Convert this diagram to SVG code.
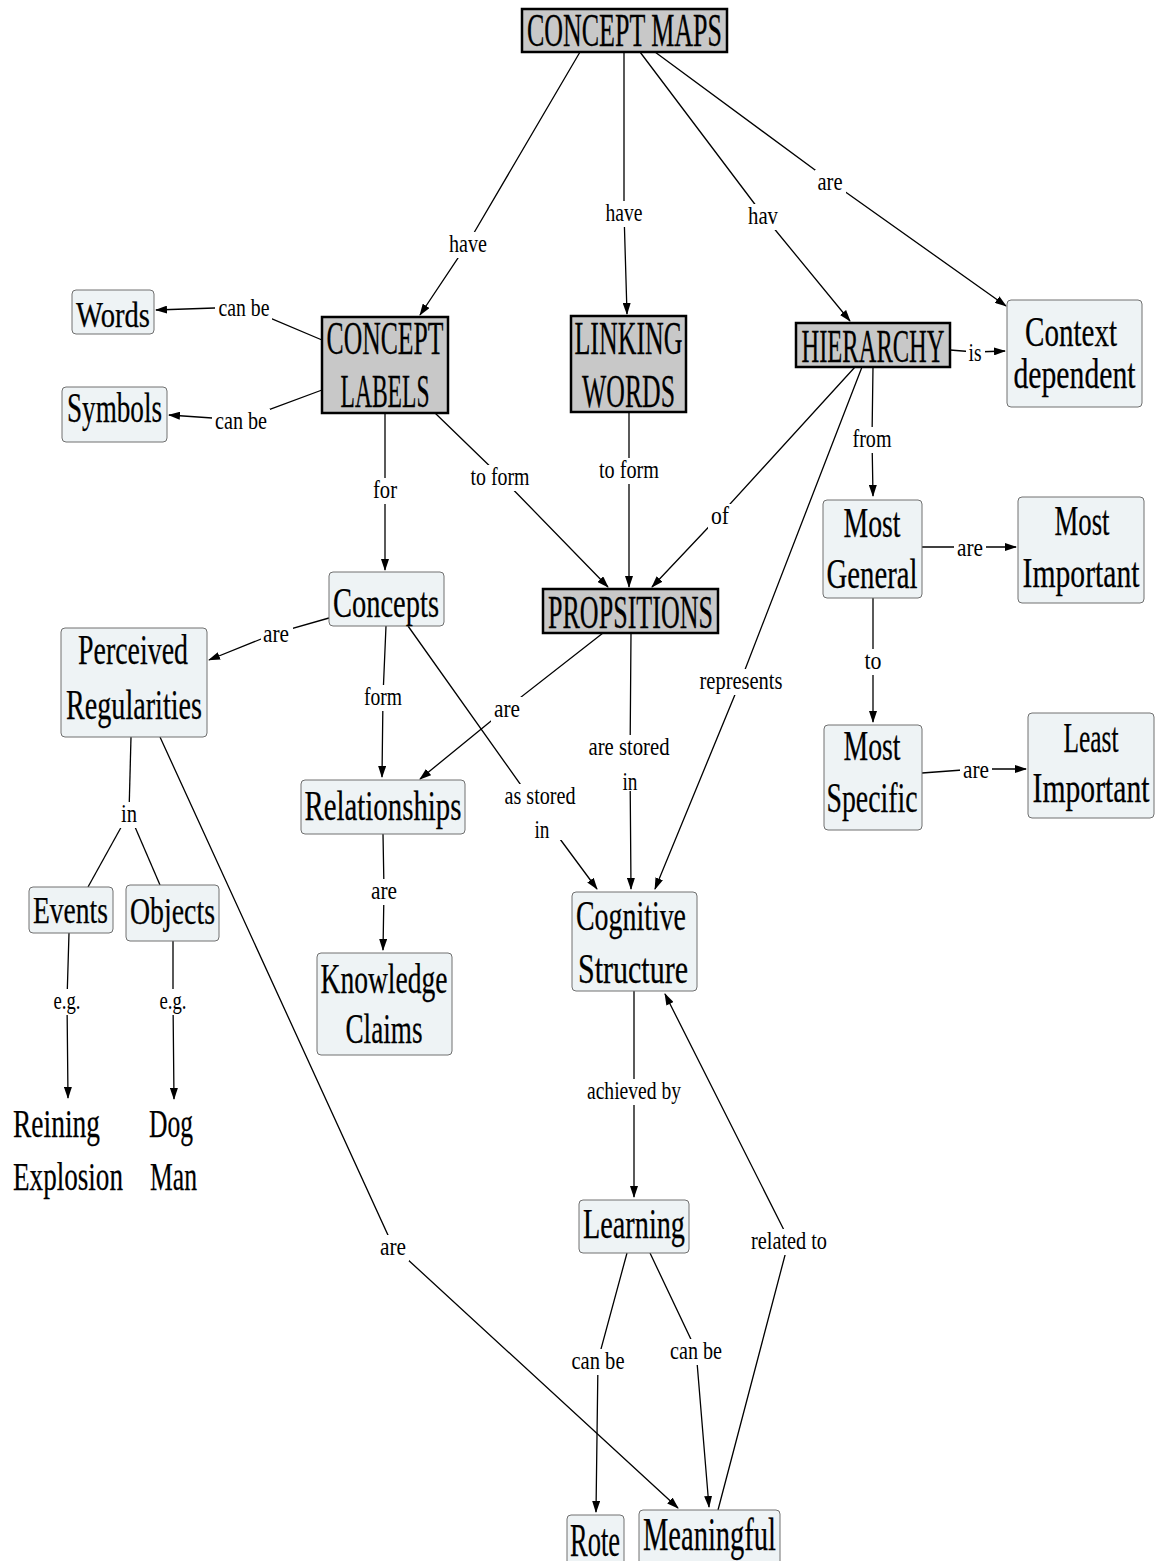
<svg xmlns="http://www.w3.org/2000/svg" width="1168" height="1561" viewBox="0 0 1168 1561">
<style>
text{font-family:"Liberation Serif","Times New Roman",serif;fill:#000;text-anchor:middle}
.c rect{fill:#c8c8c8;stroke:#000;stroke-width:2.5}
.c text{font-size:47px;stroke:#000;stroke-width:0.3}
.n rect{fill:#eef3f5;stroke:#707070;stroke-width:1}
.n text{font-size:42px;stroke:#000;stroke-width:0.25}
.p text{font-size:40px;stroke:#000;stroke-width:0.25}
#connectors path{fill:none;stroke:#000;stroke-width:1.3}
#connectors path.a{marker-end:url(#ah)}
#labels rect{fill:#fff}
#labels text{font-size:25px}
</style>
<defs>
<marker id="ah" markerWidth="12" markerHeight="8" refX="11" refY="4" orient="auto" markerUnits="userSpaceOnUse"><path d="M0,0 L12,4 L0,8 z" fill="#000"/></marker>
</defs>
<rect width="1168" height="1561" fill="#fff"/>
<g id="connectors">
<path class="a" d="M580,52 L468,243 L420,315"/>
<path class="a" d="M624,52 L624,212 L627,314"/>
<path class="a" d="M640,52 L763,215 L850,321"/>
<path class="a" d="M655,52 L830,181 L1006,306"/>
<path class="a" d="M322,340 L244,307 L156,310"/>
<path class="a" d="M322,390 L241,420 L169,415"/>
<path class="a" d="M385,413 L385,489 L385,570"/>
<path class="a" d="M435,413 L500,476 L608,587"/>
<path class="a" d="M629,412 L629,469 L629,587"/>
<path class="a" d="M950,350 L975,352 L1005,351"/>
<path class="a" d="M873,367 L872,438 L873,496"/>
<path class="a" d="M855,367 L720,515 L652,587"/>
<path class="a" d="M862,367 L741,680 L655,889"/>
<path class="a" d="M922,547 L970,547 L1016,547"/>
<path class="a" d="M873,598 L873,660 L873,722"/>
<path class="a" d="M922,773 L976,769 L1026,769"/>
<path class="a" d="M329,618 L276,633 L209,660"/>
<path class="a" d="M386,626 L383,696 L382,777"/>
<path class="a" d="M408,626 L540,812 L597,889"/>
<path class="a" d="M603,633 L507,708 L420,779"/>
<path class="a" d="M631,633 L630,763 L631,889"/>
<path d="M131,737 L129,813"/>
<path d="M129,813 L88,887"/>
<path d="M129,813 L160,885"/>
<path class="a" d="M160,737 L393,1246 L678,1508"/>
<path class="a" d="M69,933 L67,1000 L68,1098"/>
<path class="a" d="M173,941 L173,1000 L174,1099"/>
<path class="a" d="M383,834 L384,890 L383,950"/>
<path class="a" d="M634,991 L634,1090 L634,1197"/>
<path class="a" d="M627,1253 L598,1360 L596,1512"/>
<path class="a" d="M650,1253 L696,1350 L709,1507"/>
<path class="a" d="M718,1510 L789,1240 L665,994"/>
</g>
<g id="labels">
<rect x="446" y="232" width="44" height="26"/><text x="468" y="252" textLength="38" lengthAdjust="spacingAndGlyphs">have</text>
<rect x="603" y="201" width="43" height="26"/><text x="624" y="221" textLength="37" lengthAdjust="spacingAndGlyphs">have</text>
<rect x="745" y="204" width="36" height="26"/><text x="763" y="224" textLength="30" lengthAdjust="spacingAndGlyphs">hav</text>
<rect x="815" y="170" width="31" height="26"/><text x="830" y="190" textLength="25" lengthAdjust="spacingAndGlyphs">are</text>
<rect x="215" y="296" width="57" height="26"/><text x="244" y="316" textLength="51" lengthAdjust="spacingAndGlyphs">can be</text>
<rect x="212" y="409" width="58" height="26"/><text x="241" y="429" textLength="52" lengthAdjust="spacingAndGlyphs">can be</text>
<rect x="370" y="478" width="30" height="26"/><text x="385" y="498" textLength="24" lengthAdjust="spacingAndGlyphs">for</text>
<rect x="468" y="465" width="65" height="26"/><text x="500" y="485" textLength="59" lengthAdjust="spacingAndGlyphs">to form</text>
<rect x="596" y="458" width="66" height="26"/><text x="629" y="478" textLength="60" lengthAdjust="spacingAndGlyphs">to form</text>
<rect x="966" y="341" width="19" height="26"/><text x="975" y="361" textLength="13" lengthAdjust="spacingAndGlyphs">is</text>
<rect x="849" y="427" width="45" height="26"/><text x="872" y="447" textLength="39" lengthAdjust="spacingAndGlyphs">from</text>
<rect x="708" y="504" width="24" height="26"/><text x="720" y="524" textLength="18" lengthAdjust="spacingAndGlyphs">of</text>
<rect x="697" y="669" width="89" height="26"/><text x="741" y="689" textLength="83" lengthAdjust="spacingAndGlyphs">represents</text>
<rect x="954" y="536" width="32" height="26"/><text x="970" y="556" textLength="26" lengthAdjust="spacingAndGlyphs">are</text>
<rect x="862" y="649" width="23" height="26"/><text x="873" y="669" textLength="17" lengthAdjust="spacingAndGlyphs">to</text>
<rect x="960" y="758" width="32" height="26"/><text x="976" y="778" textLength="26" lengthAdjust="spacingAndGlyphs">are</text>
<rect x="261" y="622" width="32" height="26"/><text x="276" y="642" textLength="26" lengthAdjust="spacingAndGlyphs">are</text>
<rect x="361" y="685" width="44" height="26"/><text x="383" y="705" textLength="38" lengthAdjust="spacingAndGlyphs">form</text>
<rect x="502" y="784" width="77" height="56"/><text x="540" y="804" textLength="71" lengthAdjust="spacingAndGlyphs">as stored</text><text x="542" y="838" textLength="15" lengthAdjust="spacingAndGlyphs">in</text>
<rect x="491" y="697" width="32" height="26"/><text x="507" y="717" textLength="26" lengthAdjust="spacingAndGlyphs">are</text>
<rect x="585" y="735" width="87" height="56"/><text x="629" y="755" textLength="81" lengthAdjust="spacingAndGlyphs">are stored</text><text x="630" y="790" textLength="15" lengthAdjust="spacingAndGlyphs">in</text>
<rect x="118" y="802" width="22" height="26"/><text x="129" y="822" textLength="16" lengthAdjust="spacingAndGlyphs">in</text>
<rect x="377" y="1235" width="32" height="26"/><text x="393" y="1255" textLength="26" lengthAdjust="spacingAndGlyphs">are</text>
<rect x="51" y="989" width="33" height="26"/><text x="67" y="1009" textLength="27" lengthAdjust="spacingAndGlyphs">e.g.</text>
<rect x="157" y="989" width="33" height="26"/><text x="173" y="1009" textLength="27" lengthAdjust="spacingAndGlyphs">e.g.</text>
<rect x="368" y="879" width="32" height="26"/><text x="384" y="899" textLength="26" lengthAdjust="spacingAndGlyphs">are</text>
<rect x="585" y="1079" width="100" height="26"/><text x="634" y="1099" textLength="94" lengthAdjust="spacingAndGlyphs">achieved by</text>
<rect x="569" y="1349" width="59" height="26"/><text x="598" y="1369" textLength="53" lengthAdjust="spacingAndGlyphs">can be</text>
<rect x="667" y="1339" width="58" height="26"/><text x="696" y="1359" textLength="52" lengthAdjust="spacingAndGlyphs">can be</text>
<rect x="748" y="1229" width="82" height="26"/><text x="789" y="1249" textLength="76" lengthAdjust="spacingAndGlyphs">related to</text>
</g>
<g id="concept-maps" class="c"><rect x="522" y="9" width="205" height="43"/><text x="624.5" y="46" textLength="195" lengthAdjust="spacingAndGlyphs">CONCEPT MAPS</text></g>
<g id="concept-labels" class="c"><rect x="322" y="317" width="126" height="96"/><text x="385" y="354" textLength="117" lengthAdjust="spacingAndGlyphs">CONCEPT</text><text x="385" y="407" textLength="89" lengthAdjust="spacingAndGlyphs">LABELS</text></g>
<g id="linking-words" class="c"><rect x="571" y="316" width="115" height="96"/><text x="628.5" y="354" textLength="108" lengthAdjust="spacingAndGlyphs">LINKING</text><text x="628.5" y="407" textLength="93" lengthAdjust="spacingAndGlyphs">WORDS</text></g>
<g id="hierarchy" class="c"><rect x="796" y="323" width="154" height="44"/><text x="873" y="362" textLength="143" lengthAdjust="spacingAndGlyphs">HIERARCHY</text></g>
<g id="propsitions" class="c"><rect x="543" y="589" width="175" height="44"/><text x="630.5" y="628" textLength="165" lengthAdjust="spacingAndGlyphs">PROPSITIONS</text></g>
<g id="words" class="n"><rect x="72" y="290" width="82" height="44" rx="4"/><text x="113" y="327" textLength="74" lengthAdjust="spacingAndGlyphs" style="font-size:35px">Words</text></g>
<g id="symbols" class="n"><rect x="62" y="387" width="105" height="55" rx="4"/><text x="114.5" y="422" textLength="95" lengthAdjust="spacingAndGlyphs">Symbols</text></g>
<g id="concepts" class="n"><rect x="329" y="572" width="115" height="54" rx="4"/><text x="386" y="617" textLength="106" lengthAdjust="spacingAndGlyphs">Concepts</text></g>
<g id="perceived-regularities" class="n"><rect x="61" y="628" width="146" height="109" rx="4"/><text x="133" y="664" textLength="110" lengthAdjust="spacingAndGlyphs">Perceived</text><text x="134" y="719" textLength="136" lengthAdjust="spacingAndGlyphs">Regularities</text></g>
<g id="relationships" class="n"><rect x="301" y="780" width="164" height="54" rx="4"/><text x="383" y="820" textLength="157" lengthAdjust="spacingAndGlyphs">Relationships</text></g>
<g id="knowledge-claims" class="n"><rect x="317" y="953" width="135" height="102" rx="4"/><text x="384" y="993" textLength="127" lengthAdjust="spacingAndGlyphs">Knowledge</text><text x="384" y="1043" textLength="77" lengthAdjust="spacingAndGlyphs">Claims</text></g>
<g id="cognitive-structure" class="n"><rect x="572" y="892" width="125" height="99" rx="4"/><text x="631" y="930" textLength="110" lengthAdjust="spacingAndGlyphs">Cognitive</text><text x="633" y="983" textLength="110" lengthAdjust="spacingAndGlyphs">Structure</text></g>
<g id="most-general" class="n"><rect x="823" y="500" width="99" height="98" rx="4"/><text x="872" y="537" textLength="57" lengthAdjust="spacingAndGlyphs">Most</text><text x="872" y="588" textLength="91" lengthAdjust="spacingAndGlyphs">General</text></g>
<g id="most-important" class="n"><rect x="1018" y="497" width="126" height="106" rx="4"/><text x="1082" y="535" textLength="55" lengthAdjust="spacingAndGlyphs">Most</text><text x="1081" y="587" textLength="117" lengthAdjust="spacingAndGlyphs">Important</text></g>
<g id="most-specific" class="n"><rect x="824" y="725" width="98" height="105" rx="4"/><text x="872" y="760" textLength="57" lengthAdjust="spacingAndGlyphs">Most</text><text x="872" y="812" textLength="91" lengthAdjust="spacingAndGlyphs">Specific</text></g>
<g id="least-important" class="n"><rect x="1028" y="713" width="126" height="105" rx="4"/><text x="1091" y="752" textLength="55" lengthAdjust="spacingAndGlyphs">Least</text><text x="1091" y="802" textLength="117" lengthAdjust="spacingAndGlyphs">Important</text></g>
<g id="context-dependent" class="n"><rect x="1007" y="300" width="135" height="107" rx="4"/><text x="1071" y="346" textLength="92" lengthAdjust="spacingAndGlyphs">Context</text><text x="1074.5" y="388" textLength="122" lengthAdjust="spacingAndGlyphs">dependent</text></g>
<g id="events" class="n"><rect x="29" y="887" width="84" height="46" rx="4"/><text x="70.5" y="923" textLength="75" lengthAdjust="spacingAndGlyphs" style="font-size:38px">Events</text></g>
<g id="objects" class="n"><rect x="126" y="885" width="93" height="56" rx="4"/><text x="172.5" y="924" textLength="85" lengthAdjust="spacingAndGlyphs" style="font-size:38px">Objects</text></g>
<g id="learning" class="n"><rect x="579" y="1200" width="110" height="53" rx="4"/><text x="634" y="1238" textLength="102" lengthAdjust="spacingAndGlyphs">Learning</text></g>
<g id="rote" class="n"><rect x="567" y="1515" width="57" height="60" rx="4"/><text x="595" y="1556" textLength="50" lengthAdjust="spacingAndGlyphs" style="font-size:46px">Rote</text></g>
<g id="meaningful" class="n"><rect x="639" y="1510" width="141" height="60" rx="4"/><text x="709.5" y="1550" textLength="133" lengthAdjust="spacingAndGlyphs" style="font-size:46px">Meaningful</text></g>
<g id="reining-explosion" class="p"><text x="56.5" y="1137" textLength="87" lengthAdjust="spacingAndGlyphs">Reining</text><text x="68" y="1190" textLength="110" lengthAdjust="spacingAndGlyphs">Explosion</text></g>
<g id="dog-man" class="p"><text x="171" y="1137" textLength="44" lengthAdjust="spacingAndGlyphs">Dog</text><text x="173.5" y="1190" textLength="47" lengthAdjust="spacingAndGlyphs">Man</text></g>
</svg>
